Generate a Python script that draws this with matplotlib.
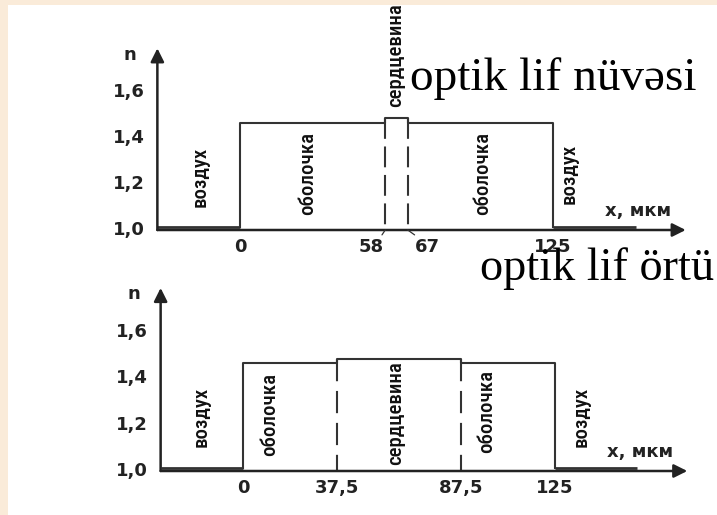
import matplotlib
matplotlib.use("Agg")
import matplotlib.pyplot as plt
from matplotlib.patches import Rectangle

plt.rcParams["lines.scale_dashes"] = False

# ---------------- data ----------------
region_labels = ["воздух", "оболочка", "сердцевина", "оболочка", "воздух"]

top_edges = [0, 58, 67, 125]                       # x, мкм
top_index = [1.013, 1.465, 1.486, 1.465, 1.013]     # n per region
top_xtick_labels = ["0", "58", "67", "125"]

bot_edges = [0, 37.5, 87.5, 125]
bot_index = [1.015, 1.466, 1.483, 1.466, 1.015]
bot_xtick_labels = ["0", "37,5", "87,5", "125"]

y_ticks = [1.0, 1.2, 1.4, 1.6]
y_tick_labels = ["1,0", "1,2", "1,4", "1,6"]

caption_core = "optik lif nüvəsi"
caption_clad = "optik lif örtü"
y_name = "n"
x_name = "x, мкм"

# ---------------- layout ----------------
W, H = 717, 515
BEIGE = "#FAEBD9"
INK = "#222222"
LINE = "#333333"

fig = plt.figure(figsize=(W / 100, H / 100), dpi=100, facecolor=BEIGE)
fig.patches.append(Rectangle((8 / W, 0), (W - 8) / W, (H - 5) / H,
                             transform=fig.transFigure, facecolor="white",
                             edgecolor="none", zorder=-10))


def make_ax(x0px, xs, y0px, ys):
    ax = fig.add_axes([0, 0, 1, 1])
    ax.set_xlim(-x0px / xs, (W - x0px) / xs)
    ax.set_ylim(1 - (H - y0px) / ys, 1 + y0px / ys)
    ax.axis("off")
    ax.patch.set_alpha(0)
    ax.set_zorder(1)
    return ax


AXIS_X = -33      # position of drawn n-axis
AIR_END = 158     # end of right air line
X_ARROW = 178
Y_ARROW = 1.79

tick_font = dict(family="DejaVu Sans", weight="bold", fontsize=13, color=INK)
lab_font = dict(family="Roboto Condensed", weight="medium", fontsize=15, color="#111111")


def draw_panel(ax, edges, index, xlabels, label_pos, dash, leader):
    # axes with arrows
    ax.annotate("", xy=(AXIS_X, Y_ARROW), xytext=(AXIS_X, 1.0),
                arrowprops=dict(arrowstyle="-|>", lw=1.8, color=INK,
                                mutation_scale=20, shrinkA=0, shrinkB=0))
    ax.annotate("", xy=(X_ARROW, 1.0), xytext=(AXIS_X, 1.0),
                arrowprops=dict(arrowstyle="-|>", lw=1.8, color=INK,
                                mutation_scale=20, shrinkA=0, shrinkB=0))
    # refractive index profile
    xs = [AXIS_X]
    ys = [index[0]]
    for i, e in enumerate(edges):
        xs += [e, e]
        ys += [index[i], index[i + 1]]
    xs.append(AIR_END)
    ys.append(index[-1])
    ax.plot(xs[:2], ys[:2], color=LINE, lw=2.0, solid_capstyle="butt")
    ax.plot(xs[1:-1], ys[1:-1], color=LINE, lw=1.5, solid_joinstyle="round")
    ax.plot(xs[-2:], ys[-2:], color=LINE, lw=2.0, solid_capstyle="butt")
    # core boundaries (dashed)
    for e in edges[1:3]:
        ax.plot([e, e], [max(index), 1.0], color=LINE, lw=1.5,
                linestyle=(0, dash))
    # y ticks
    for v, t in zip(y_ticks, y_tick_labels):
        ax.annotate(t, xy=(AXIS_X, v), xytext=(-9, 0), textcoords="offset points",
                    ha="right", va="center", **tick_font)
    ax.annotate(y_name, xy=(AXIS_X, Y_ARROW), xytext=(-19.5, -4.5),
                textcoords="offset points", ha="center", va="center", **tick_font)
    # x ticks
    for e, t in zip(edges, xlabels):
        if leader and t in leader:
            dx, rel = leader[t]
            ax.annotate(t, xy=(e, 1.0), xytext=(dx, -12), textcoords="offset points",
                        ha="center", va="center",
                        arrowprops=dict(arrowstyle="-", lw=0.9, color=LINE,
                                        shrinkA=0, shrinkB=0, relpos=rel),
                        **tick_font)
        else:
            ax.annotate(t, xy=(e, 1.0), xytext=(0, -12), textcoords="offset points",
                        ha="center", va="center", **tick_font)
    ax.annotate(x_name, xy=(X_ARROW, 1.0), xytext=(-34, 14), textcoords="offset points",
                ha="center", va="center", family="DejaVu Sans", weight="bold",
                fontsize=13, color=INK)
    # region labels
    for (lx, ly), t in zip(label_pos, region_labels):
        ax.text(lx, ly, t, rotation=90, ha="center", va="center", **lab_font)


ax_top = make_ax(240, 2.504, 230, 230)
draw_panel(ax_top, top_edges, top_index, top_xtick_labels,
           [(-16.0, 1.230), (27.2, 1.248), (62.3, 1.761), (96.7, 1.248), (131.6, 1.243)],
           (15, 5.5), {"58": (-10, (0.85, 1.0)), "67": (14, (0.15, 1.0))})

ax_bot = make_ax(243, 2.496, 471, 231.7)
draw_panel(ax_bot, bot_edges, bot_index, bot_xtick_labels,
           [(-16.8, 1.233), (10.8, 1.242), (61.3, 1.250), (97.8, 1.255), (135.4, 1.233)],
           (16, 7), None)

serif = dict(family=["Liberation Serif", "DejaVu Serif"], color="black", zorder=5)
fig.text(410 / W, 1 - 90 / H, caption_core, ha="left", va="baseline",
         fontsize=34, **serif)
fig.text(480 / W, 1 - 280 / H, caption_clad, ha="left", va="baseline",
         fontsize=33.3, **serif)

fig.savefig("out.png", dpi=100, facecolor=BEIGE)
